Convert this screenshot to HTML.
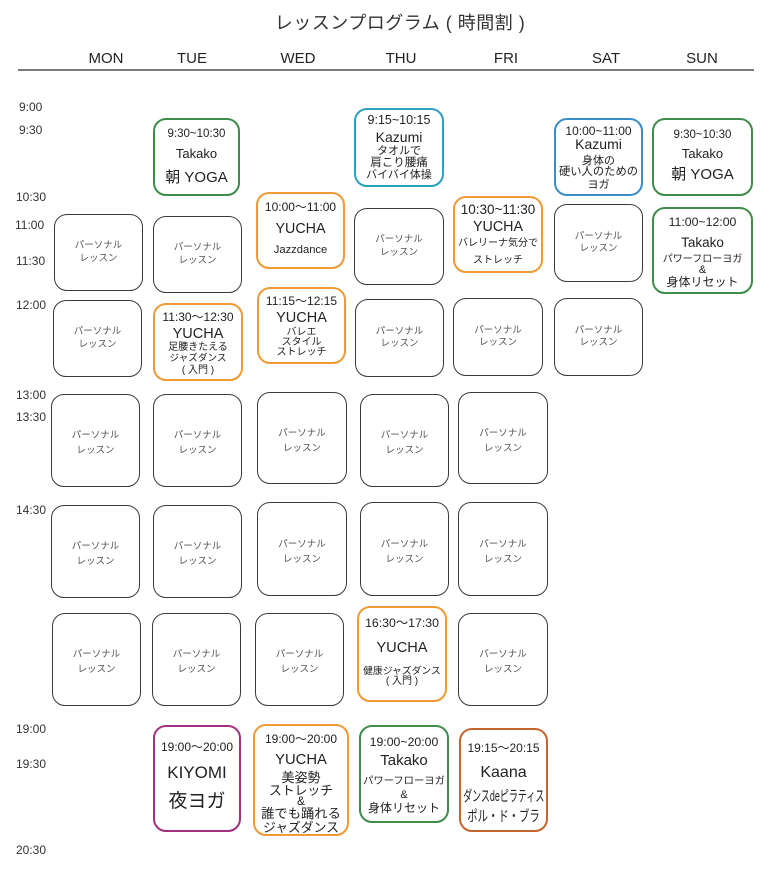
<!DOCTYPE html>
<html><head><meta charset="utf-8">
<style>
html,body{margin:0;padding:0;background:#fff;}
body{width:771px;height:870px;position:relative;overflow:hidden;font-family:"Liberation Sans","Noto Sans CJK JP",sans-serif;color:#222;}
.title{position:absolute;left:0;width:800px;top:23px;line-height:0;text-align:center;font-size:18px;letter-spacing:0.5px;color:#333;white-space:nowrap;}
.day{position:absolute;top:59px;line-height:0;font-size:15px;color:#222;width:80px;margin-left:-40px;text-align:center;}
.hr{position:absolute;left:18px;top:69px;width:736px;height:2px;background:#7a7a7a;}
.tm{position:absolute;left:17px;line-height:0;font-size:12px;color:#333;}
.b{position:absolute;box-sizing:border-box;border-radius:13px;background:#fff;}
.p{border:1.6px solid #3a3a3a;display:flex;flex-direction:column;justify-content:center;align-items:center;font-size:9.5px;color:#555;line-height:12.5px;}
.p.lo{line-height:15px;padding-top:5px;}
.g{border:2.5px solid #3f8d4b;}
.tl{border:2.5px solid #2ba0bf;}
.bl{border:2.5px solid #3a8cc6;}
.o{border:2.5px solid #ef9a34;}
.pu{border:2.5px solid #a2317f;}
.br{border:2.5px solid #c4652b;}
.t{position:absolute;left:-4px;right:-4px;text-align:center;line-height:0;white-space:nowrap;color:#222;}
.tf{position:absolute;left:-10px;right:-10px;display:flex;justify-content:center;line-height:0;white-space:nowrap;color:#222;}
.sx{display:block;flex:none;}
</style></head><body>
<div class="title">レッスンプログラム ( 時間割 )</div>
<div class="day" style="left:106px">MON</div>
<div class="day" style="left:192px">TUE</div>
<div class="day" style="left:298px">WED</div>
<div class="day" style="left:401px">THU</div>
<div class="day" style="left:506px">FRI</div>
<div class="day" style="left:606px">SAT</div>
<div class="day" style="left:702px">SUN</div>
<div class="hr"></div>

<div class="tm" style="top:107px;left:19px">9:00</div>
<div class="tm" style="top:130px;left:19px">9:30</div>
<div class="tm" style="top:197px;left:16px">10:30</div>
<div class="tm" style="top:225px;left:15px">11:00</div>
<div class="tm" style="top:261px;left:16px">11:30</div>
<div class="tm" style="top:305px;left:16px">12:00</div>
<div class="tm" style="top:395px;left:16px">13:00</div>
<div class="tm" style="top:417px;left:16px">13:30</div>
<div class="tm" style="top:510px;left:16px">14:30</div>
<div class="tm" style="top:729px;left:16px">19:00</div>
<div class="tm" style="top:764px;left:16px">19:30</div>
<div class="tm" style="top:850px;left:16px">20:30</div>

<!-- personal upper -->
<div class="b p" style="left:54px;top:214px;width:89px;height:77px"><div>パーソナル</div><div>レッスン</div></div>
<div class="b p" style="left:153px;top:216px;width:89px;height:77px"><div>パーソナル</div><div>レッスン</div></div>
<div class="b p" style="left:354px;top:208px;width:90px;height:77px"><div>パーソナル</div><div>レッスン</div></div>
<div class="b p" style="left:554px;top:204px;width:89px;height:78px"><div>パーソナル</div><div>レッスン</div></div>
<div class="b p" style="left:53px;top:300px;width:89px;height:77px"><div>パーソナル</div><div>レッスン</div></div>
<div class="b p" style="left:355px;top:299px;width:89px;height:78px"><div>パーソナル</div><div>レッスン</div></div>
<div class="b p" style="left:453px;top:298px;width:90px;height:78px"><div>パーソナル</div><div>レッスン</div></div>
<div class="b p" style="left:554px;top:298px;width:89px;height:78px"><div>パーソナル</div><div>レッスン</div></div>

<!-- personal 13:00 -->
<div class="b p lo" style="left:51px;top:394px;width:89px;height:93px"><div>パーソナル</div><div>レッスン</div></div>
<div class="b p lo" style="left:153px;top:394px;width:89px;height:93px"><div>パーソナル</div><div>レッスン</div></div>
<div class="b p lo" style="left:257px;top:392px;width:90px;height:92px"><div>パーソナル</div><div>レッスン</div></div>
<div class="b p lo" style="left:360px;top:394px;width:89px;height:93px"><div>パーソナル</div><div>レッスン</div></div>
<div class="b p lo" style="left:458px;top:392px;width:90px;height:92px"><div>パーソナル</div><div>レッスン</div></div>
<!-- personal 14:30 -->
<div class="b p lo" style="left:51px;top:505px;width:89px;height:93px"><div>パーソナル</div><div>レッスン</div></div>
<div class="b p lo" style="left:153px;top:505px;width:89px;height:93px"><div>パーソナル</div><div>レッスン</div></div>
<div class="b p lo" style="left:257px;top:502px;width:90px;height:94px"><div>パーソナル</div><div>レッスン</div></div>
<div class="b p lo" style="left:360px;top:502px;width:89px;height:94px"><div>パーソナル</div><div>レッスン</div></div>
<div class="b p lo" style="left:458px;top:502px;width:90px;height:94px"><div>パーソナル</div><div>レッスン</div></div>
<!-- personal 16:30 row -->
<div class="b p lo" style="left:52px;top:613px;width:89px;height:93px"><div>パーソナル</div><div>レッスン</div></div>
<div class="b p lo" style="left:152px;top:613px;width:89px;height:93px"><div>パーソナル</div><div>レッスン</div></div>
<div class="b p lo" style="left:255px;top:613px;width:89px;height:93px"><div>パーソナル</div><div>レッスン</div></div>
<div class="b p lo" style="left:458px;top:613px;width:90px;height:93px"><div>パーソナル</div><div>レッスン</div></div>

<!-- TUE 9:30 -->
<div class="b g" style="left:153px;top:118px;width:87px;height:78px">
<div class="t" style="top:14px;font-size:11.5px">9:30~10:30</div>
<div class="t" style="top:34px;font-size:13px">Takako</div>
<div class="t" style="top:58px;font-size:15px">朝 YOGA</div>
</div>
<!-- THU 9:15 -->
<div class="b tl" style="left:354px;top:108px;width:90px;height:79px">
<div class="t" style="top:10px;font-size:12.5px">9:15~10:15</div>
<div class="t" style="top:27px;font-size:14px">Kazumi</div>
<div class="t" style="top:41px;font-size:11px">タオルで</div>
<div class="t" style="top:53px;font-size:11.5px">肩こり腰痛</div>
<div class="t" style="top:65px;font-size:11px">バイバイ体操</div>
</div>
<!-- SAT 10:00 -->
<div class="b bl" style="left:554px;top:118px;width:89px;height:78px">
<div class="t" style="top:10.5px;font-size:12px">10:00~11:00</div>
<div class="t" style="top:24px;font-size:14px">Kazumi</div>
<div class="t" style="top:41px;font-size:11px">身体の</div>
<div class="t" style="top:52px;font-size:11.3px">硬い人のための</div>
<div class="t" style="top:65px;font-size:11px">ヨガ</div>
</div>
<!-- SUN 9:30 -->
<div class="b g" style="left:652px;top:118px;width:101px;height:78px">
<div class="t" style="top:14.5px;font-size:11.5px">9:30~10:30</div>
<div class="t" style="top:34px;font-size:13px">Takako</div>
<div class="t" style="top:55px;font-size:15px">朝 YOGA</div>
</div>
<!-- SUN 11:00 -->
<div class="b g" style="left:652px;top:207px;width:101px;height:87px">
<div class="t" style="top:13px;font-size:12.3px">11:00~12:00</div>
<div class="t" style="top:33.5px;font-size:13.5px">Takako</div>
<div class="t" style="top:50.5px;font-size:10px">パワーフローヨガ</div>
<div class="t" style="top:61px;font-size:11px">&amp;</div>
<div class="t" style="top:72.5px;font-size:12px">身体リセット</div>
</div>
<!-- WED 10:00 -->
<div class="b o" style="left:256px;top:192px;width:89px;height:77px">
<div class="t" style="top:13px;font-size:12px">10:00〜11:00</div>
<div class="t" style="top:35px;font-size:14.3px">YUCHA</div>
<div class="t" style="top:55.5px;font-size:11.2px">Jazzdance</div>
</div>
<!-- FRI 10:30 -->
<div class="b o" style="left:453px;top:196px;width:90px;height:77px">
<div class="t" style="top:11.5px;font-size:13.5px">10:30~11:30</div>
<div class="t" style="top:28.5px;font-size:14.3px">YUCHA</div>
<div class="t" style="top:46px;font-size:10px">バレリーナ気分で</div>
<div class="t" style="top:62.5px;font-size:10px">ストレッチ</div>
</div>
<!-- TUE 11:30 -->
<div class="b o" style="left:153px;top:303px;width:90px;height:78px">
<div class="t" style="top:11.5px;font-size:12px">11:30〜12:30</div>
<div class="t" style="top:28.5px;font-size:14.5px">YUCHA</div>
<div class="t" style="top:42.5px;font-size:10px">足腰きたえる</div>
<div class="t" style="top:54px;font-size:9.6px">ジャズダンス</div>
<div class="t" style="top:65.5px;font-size:10px">( 入門 )</div>
</div>
<!-- WED 11:15 -->
<div class="b o" style="left:257px;top:287px;width:89px;height:77px">
<div class="t" style="top:12px;font-size:12px">11:15〜12:15</div>
<div class="t" style="top:28.5px;font-size:14.5px">YUCHA</div>
<div class="t" style="top:43.5px;font-size:10px">バレエ</div>
<div class="t" style="top:53.5px;font-size:10px">スタイル</div>
<div class="t" style="top:63.5px;font-size:10px">ストレッチ</div>
</div>
<!-- THU 16:30 -->
<div class="b o" style="left:357px;top:606px;width:90px;height:96px">
<div class="t" style="top:15px;font-size:12.3px">16:30〜17:30</div>
<div class="t" style="top:39.5px;font-size:14.6px">YUCHA</div>
<div class="t" style="top:64px;font-size:9.8px">健康ジャズダンス</div>
<div class="t" style="top:74px;font-size:10px">( 入門 )</div>
</div>
<!-- TUE night -->
<div class="b pu" style="left:153px;top:725px;width:88px;height:107px">
<div class="t" style="top:20px;font-size:12px">19:00〜20:00</div>
<div class="t" style="top:46px;font-size:17px">KIYOMI</div>
<div class="t" style="top:75px;font-size:19px">夜ヨガ</div>
</div>
<!-- WED night -->
<div class="b o" style="left:253px;top:724px;width:96px;height:112px">
<div class="t" style="top:13px;font-size:12px">19:00〜20:00</div>
<div class="t" style="top:33.5px;font-size:14.8px">YUCHA</div>
<div class="t" style="top:52px;font-size:13px">美姿勢</div>
<div class="t" style="top:64.5px;font-size:12.8px">ストレッチ</div>
<div class="t" style="top:75px;font-size:12px">&amp;</div>
<div class="t" style="top:88px;font-size:13.3px">誰でも踊れる</div>
<div class="t" style="top:101.5px;font-size:12.8px">ジャズダンス</div>
</div>
<!-- THU night -->
<div class="b g" style="left:359px;top:725px;width:90px;height:98px">
<div class="t" style="top:15px;font-size:12.3px">19:00~20:00</div>
<div class="t" style="top:34px;font-size:15px">Takako</div>
<div class="t" style="top:55px;font-size:10.3px">パワーフローヨガ</div>
<div class="t" style="top:67.5px;font-size:11px">&amp;</div>
<div class="t" style="top:81px;font-size:12px">身体リセット</div>
</div>
<!-- FRI night -->
<div class="b br" style="left:459px;top:728px;width:89px;height:104px">
<div class="t" style="top:17.5px;font-size:12px">19:15〜20:15</div>
<div class="t" style="top:42.5px;font-size:16px">Kaana</div>
<div class="tf" style="top:67px;font-size:15px"><span class="sx" style="transform:scaleX(0.6)">ダンスdeピラティス</span></div>
<div class="tf" style="top:87px;font-size:15px"><span class="sx" style="transform:scaleX(0.69)">ポル・ド・ブラ</span></div>
</div>
</body></html>
